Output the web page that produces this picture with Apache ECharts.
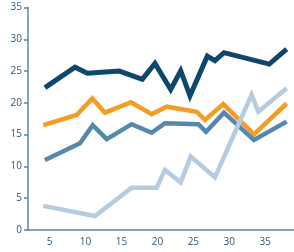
<!DOCTYPE html>
<html><head><meta charset="utf-8">
<style>html,body{margin:0;padding:0;background:#fff;}#c{width:294px;height:252px;}</style>
<script src="https://cdn.jsdelivr.net/npm/echarts@6/dist/echarts.min.js"></script>
</head><body><div id="c"></div>
<script>
const xTicks = [5, 10, 15, 20, 25, 30, 35];
const yTicks = [0, 5, 10, 15, 20, 25, 30, 35];

const navyX = [4.36, 8.54, 10.25, 14.7, 17.9, 19.66, 21.85, 23.24, 24.53, 26.94, 28.0, 29.26, 35.56, 37.98];
const navyY = [22.4, 25.6, 24.65, 25.0, 23.7, 26.2, 22.1, 25.05, 21.1, 27.35, 26.65, 27.9, 26.1, 28.45];

const orangeX = [4.13, 8.77, 10.94, 12.71, 16.33, 19.2, 21.29, 25.46, 26.62, 29.16, 33.43, 37.98];
const orangeY = [16.5, 18.1, 20.7, 18.45, 20.1, 18.2, 19.4, 18.6, 17.3, 19.8, 15.05, 19.9];

const steelX = [4.36, 9.23, 11.0, 12.95, 16.42, 19.2, 21.05, 25.69, 26.76, 29.26, 33.43, 37.98];
const steelY = [11.0, 13.65, 16.5, 14.3, 16.65, 15.3, 16.8, 16.65, 15.45, 18.45, 14.15, 17.05];

const lightX = [4.13, 11.32, 16.42, 19.9, 21.05, 23.24, 24.63, 28.0, 33.1, 34.03, 37.98];
const lightY = [3.8, 2.2, 6.65, 6.65, 9.45, 7.5, 11.55, 8.3, 21.25, 18.6, 22.3];

function pairs(xs, ys) { return xs.map((x, i) => [x, ys[i]]); }

const axisCol = '#5f82a8';
const labelCol = '#2f5683';
const font = '"Open Sans", sans-serif';

function line(name, xs, ys, color, w) {
  return {
    name, type: 'line', data: pairs(xs, ys), showSymbol: false, symbol: 'none',
    lineStyle: { color, width: w, cap: 'butt', join: 'miter' }, animation: false
  };
}

const chart = echarts.init(document.getElementById('c'), null, { renderer: 'canvas' });
chart.setOption({
  animation: false,
  grid: { left: 28, right: 0, top: 7.5, bottom: 22 },
  xAxis: {
    type: 'value', min: 2, max: 39,
    axisLine: { show: true, lineStyle: { color: axisCol, width: 1.5 } },
    axisTick: { show: false },
    splitLine: { show: false },
    axisLabel: {
      customValues: xTicks,
      formatter: v => (xTicks.indexOf(v) >= 0 ? String(v) : ''),
      color: labelCol, fontSize: 10, fontFamily: font, margin: 7
    }
  },
  yAxis: {
    type: 'value', min: 0, max: 35, interval: 5,
    axisLine: { show: true, lineStyle: { color: axisCol, width: 1.5 } },
    axisTick: { show: true, length: 4, inside: false, lineStyle: { color: axisCol, width: 1.5 } },
    splitLine: { show: false },
    axisLabel: {
      formatter: v => (yTicks.indexOf(v) >= 0 ? String(v) : ''),
      color: labelCol, fontSize: 10, fontFamily: font, margin: 6
    }
  },
  series: [
    line('orange', orangeX, orangeY, '#f59c25', 4.5),
    line('steel', steelX, steelY, '#5687ad', 4.5),
    line('navy', navyX, navyY, '#0d4769', 5),
    line('light', lightX, lightY, '#b5cbdf', 4.5)
  ]
});
</script></body></html>
